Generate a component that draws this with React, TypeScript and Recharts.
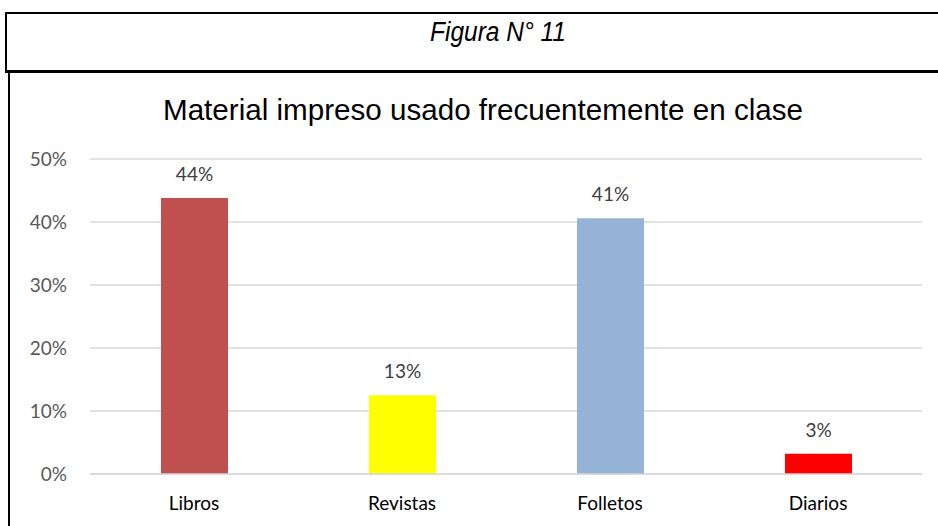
import React from 'react';
import { BarChart, Bar, XAxis, YAxis, CartesianGrid, Cell, LabelList } from 'recharts';

const categories = ['Libros', 'Revistas', 'Folletos', 'Diarios'];
const shares = [0.438, 0.125, 0.406, 0.032];
const shareLabels = ['44%', '13%', '41%', '3%'];
const barColors = ['#C0504D', '#FFFF00', '#95B3D7', '#FF0000'];
const yTicks = [0, 0.1, 0.2, 0.3, 0.4, 0.5];

const data = categories.map((name, i) => ({
  name,
  value: shares[i],
  label: shareLabels[i],
}));

const tickFont = 'Lato, "Open Sans", sans-serif';
const arial = '"Liberation Sans", Arial, sans-serif';

const App: React.FC = () => {
  return (
    <div style={{ position: 'fixed', left: 0, top: 0, width: 938, height: 526, background: '#fff', overflow: 'hidden' }}>
      {/* Figure caption box */}
      <div
        style={{
          position: 'absolute',
          left: 5,
          top: 12,
          width: 960,
          height: 56,
          borderTop: '2px solid #000',
          borderLeft: '2px solid #000',
          borderBottom: '3px solid #000',
        }}
      />
      {/* Chart box */}
      <div
        style={{
          position: 'absolute',
          left: 8,
          top: 73,
          width: 960,
          height: 480,
          borderLeft: '2px solid #000',
        }}
      />

      {/* caption + title as svg text so the narrow widths can be matched */}
      <svg width={938} height={140} style={{ position: 'absolute', left: 0, top: 0 }}>
        <text
          x={430}
          y={41}
          textLength={136}
          lengthAdjust="spacingAndGlyphs"
          fontFamily={arial}
          fontStyle="italic"
          fontSize={27}
          fill="#000"
        >
          Figura N° 11
        </text>
        <text
          x={163}
          y={120}
          textLength={640}
          lengthAdjust="spacingAndGlyphs"
          fontFamily={arial}
          fontSize={30}
          fill="#000"
        >
          Material impreso usado frecuentemente en clase
        </text>
      </svg>

      <div style={{ position: 'absolute', left: 10, top: 72 }}>
        <BarChart
          width={928}
          height={454}
          data={data}
          margin={{ top: 87, right: 16, left: 0, bottom: 22 }}
        >
          <CartesianGrid vertical={false} stroke="#D9D9D9" strokeWidth={1.5} />
          <XAxis
            dataKey="name"
            axisLine={{ stroke: '#D9D9D9', strokeWidth: 1.5 }}
            tickLine={false}
            tickMargin={17}
            height={30}
            tick={{ fontSize: 19, fill: '#000', fontFamily: tickFont }}
          />
          <YAxis
            domain={[0, 0.5]}
            ticks={yTicks}
            width={80}
            axisLine={false}
            tickLine={false}
            tickMargin={17}
            tickFormatter={(v: number) => `${Math.round(v * 100)}%`}
            tick={{ fontSize: 19, fill: '#595959', fontFamily: tickFont }}
          />
          <Bar dataKey="value" barSize={67} isAnimationActive={false}>
            {data.map((d, i) => (
              <Cell key={d.name} fill={barColors[i]} />
            ))}
            <LabelList
              dataKey="label"
              position="top"
              offset={17}
              style={{ fontSize: 19, fill: '#404040', fontFamily: tickFont }}
            />
          </Bar>
        </BarChart>
      </div>
    </div>
  );
};

export default App;
